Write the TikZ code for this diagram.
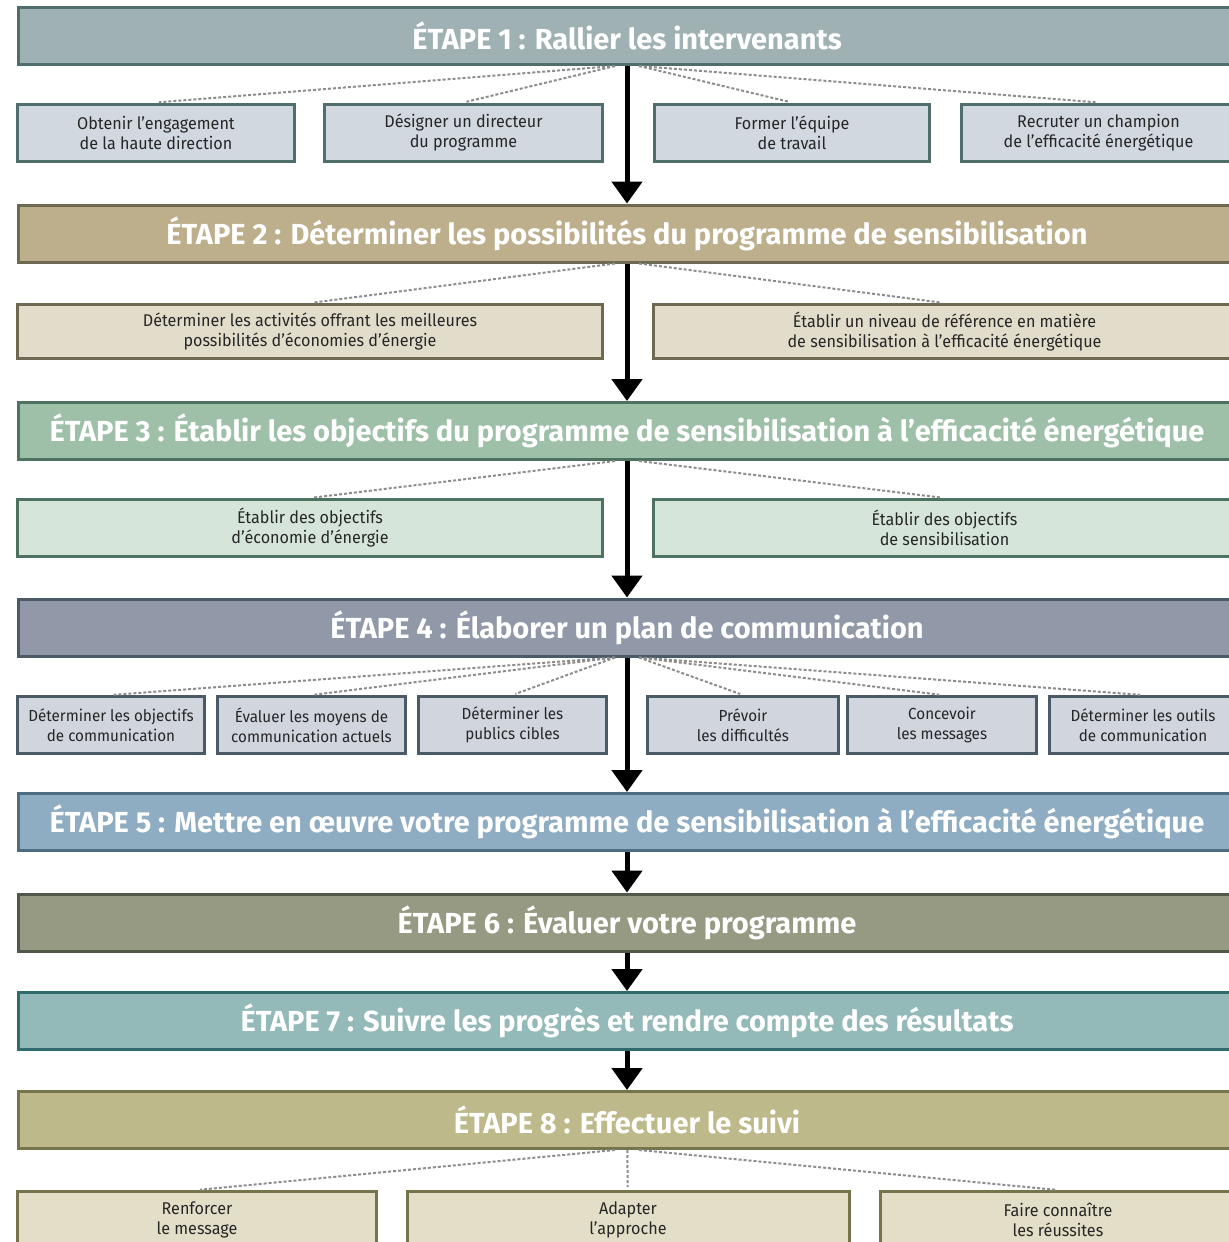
\documentclass[tikz,border=0pt]{standalone}
\usepackage{fontspec}
\setmainfont{Fira Sans}
\newfontfamily\titrefont{Fira Sans}
\newfontfamily\boitefont[FakeStretch=0.95]{Fira Sans}
\usetikzlibrary{arrows.meta}

\definecolor{e1fond}{HTML}{9FB1B3}\definecolor{e1trait}{HTML}{4F6E6C}\definecolor{s1fond}{HTML}{D1D8E0}
\definecolor{e2fond}{HTML}{BDAF8B}\definecolor{e2trait}{HTML}{6E6A52}\definecolor{s2fond}{HTML}{E2DCCB}
\definecolor{e3fond}{HTML}{9EBFA8}\definecolor{e3trait}{HTML}{4E7260}\definecolor{s3fond}{HTML}{D6E5DA}
\definecolor{e4fond}{HTML}{9199A8}\definecolor{e4trait}{HTML}{4A5A66}\definecolor{s4fond}{HTML}{D0D5DE}
\definecolor{e5fond}{HTML}{8EACC2}\definecolor{e5trait}{HTML}{4D6E80}
\definecolor{e6fond}{HTML}{969A82}\definecolor{e6trait}{HTML}{50584A}
\definecolor{e7fond}{HTML}{93BAB8}\definecolor{e7trait}{HTML}{2F6A6C}
\definecolor{e8fond}{HTML}{BDB98A}\definecolor{e8trait}{HTML}{76744A}\definecolor{s8fond}{HTML}{E3DEC8}

\begin{document}
\begin{tikzpicture}[
  x=0.5pt, y=-0.5pt,
  etape/.style 2 args={draw=#2, fill=#1, line width=1.5pt, minimum width=608.5pt, minimum height=28.5pt,
    inner sep=0pt, text=white, font=\titrefont\bfseries\fontsize{14.5}{16}\selectfont},
  boite/.style 2 args={draw=#2, fill=#1, line width=1.5pt, minimum height=28.5pt, inner sep=0pt,
    align=center, text=black!85, font=\boitefont\fontsize{8.5}{10}\selectfont},
  petite/.style={font=\boitefont\fontsize{8}{10}\selectfont},
  arr/.style={-{Triangle[length=11pt,width=15pt]}, line width=2.5pt},
  pts/.style={black!45, line width=1pt, dash pattern=on 1.5pt off 1pt, shorten >=1.5pt}
]
\useasboundingbox (0,0) rectangle (1228,1242);

\node[etape={e1fond}{e1trait}] (e1) at (627,36) {ÉTAPE 1 : Rallier les intervenants};
\node[etape={e2fond}{e2trait}] (e2) at (627,233.5) {ÉTAPE 2 : Déterminer les possibilités du programme de sensibilisation};
\node[etape={e3fond}{e3trait}] (e3) at (627,431) {ÉTAPE 3 : Établir les objectifs du programme de sensibilisation à l’efficacité énergétique};
\node[etape={e4fond}{e4trait}] (e4) at (627,627.5) {ÉTAPE 4 : Élaborer un plan de communication};
\node[etape={e5fond}{e5trait}] (e5) at (627,822) {ÉTAPE 5 : Mettre en œuvre votre programme de sensibilisation à l’efficacité énergétique};
\node[etape={e6fond}{e6trait}] (e6) at (627,922.5) {ÉTAPE 6 : Évaluer votre programme};
\node[etape={e7fond}{e7trait}] (e7) at (627,1021) {ÉTAPE 7 : Suivre les progrès et rendre compte des résultats};
\node[etape={e8fond}{e8trait}] (e8) at (627,1120) {ÉTAPE 8 : Effectuer le suivi};

% etape 1
\node[boite={s1fond}{e1trait}, minimum width=138.5pt] (o1) at (156,132.5) {Obtenir l’engagement\\de la haute direction};
\node[boite={s1fond}{e1trait}, minimum width=139pt] (o2) at (463.5,132.5) {Désigner un directeur\\du programme};
\node[boite={s1fond}{e1trait}, minimum width=137.5pt] (o3) at (792,132.5) {Former l’équipe\\de travail};
\node[boite={s1fond}{e1trait}, minimum width=137pt] (o4) at (1098.5,132.5) {Recruter un champion\\de l’efficacité énergétique};

% etape 2
\node[boite={s2fond}{e2trait}, minimum width=292.5pt, minimum height=27pt] (d1) at (310,331.5) {Déterminer les activités offrant les meilleures\\possibilités d’économies d’énergie};
\node[boite={s2fond}{e2trait}, minimum width=291pt, minimum height=27pt] (d2) at (944.5,331.5) {Établir un niveau de référence en matière\\de sensibilisation à l’efficacité énergétique};

% etape 3
\node[boite={s3fond}{e3trait}, minimum width=292.5pt] (b1) at (310,528) {Établir des objectifs\\d’économie d’énergie};
\node[boite={s3fond}{e3trait}, minimum width=291pt] (b2) at (944.5,528) {Établir des objectifs\\de sensibilisation};

% etape 4
\node[boite={s4fond}{e4trait}, petite, minimum width=93.5pt] (c1) at (111,725) {Déterminer les objectifs\\de communication};
\node[boite={s4fond}{e4trait}, petite, minimum width=94pt] (c2) at (311.5,725) {Évaluer les moyens de\\communication actuels};
\node[boite={s4fond}{e4trait}, petite, minimum width=94pt] (c3) at (512.5,725) {Déterminer les\\publics cibles};
\node[boite={s4fond}{e4trait}, petite, minimum width=95.5pt] (c4) at (743,725) {Prévoir\\les difficultés};
\node[boite={s4fond}{e4trait}, petite, minimum width=94.5pt] (c5) at (942,725) {Concevoir\\les messages};
\node[boite={s4fond}{e4trait}, petite, minimum width=93.5pt] (c6) at (1143,725) {Déterminer les outils\\de communication};

% etape 8
\node[boite={s8fond}{e8trait}, minimum width=179.5pt] (s1) at (197,1220) {Renforcer\\le message};
\node[boite={s8fond}{e8trait}, minimum width=221pt] (s2) at (628,1220) {Adapter\\l’approche};
\node[boite={s8fond}{e8trait}, minimum width=177.5pt] (s3) at (1058,1220) {Faire connaître\\les réussites};

\foreach \a/\b in {e1/e2,e2/e3,e3/e4,e4/e5,e5/e6,e6/e7,e7/e8}
  \draw[arr] (\a) -- (\b);

\draw[pts] ([xshift=-6pt]e1.south) -- (o1.north);
\draw[pts] ([xshift=-6pt]e1.south) -- (o2.north);
\draw[pts] ([xshift=6pt]e1.south) -- (o3.north);
\draw[pts] ([xshift=6pt]e1.south) -- (o4.north);
\draw[pts] ([xshift=-6pt]e2.south) -- (d1.north);
\draw[pts] ([xshift=6pt]e2.south) -- (d2.north);
\draw[pts] ([xshift=-6pt]e3.south) -- (b1.north);
\draw[pts] ([xshift=6pt]e3.south) -- (b2.north);
\draw[pts] ([xshift=-6pt]e4.south) -- (c1.north);
\draw[pts] ([xshift=-6pt]e4.south) -- (c2.north);
\draw[pts] ([xshift=-6pt]e4.south) -- (c3.north);
\draw[pts] ([xshift=6pt]e4.south) -- (c4.north);
\draw[pts] ([xshift=6pt]e4.south) -- (c5.north);
\draw[pts] ([xshift=6pt]e4.south) -- (c6.north);
\draw[pts] ([xshift=-6pt]e8.south) -- (s1.north);
\draw[pts] (e8) -- (s2);
\draw[pts] ([xshift=6pt]e8.south) -- (s3.north);

\end{tikzpicture}
\end{document}
